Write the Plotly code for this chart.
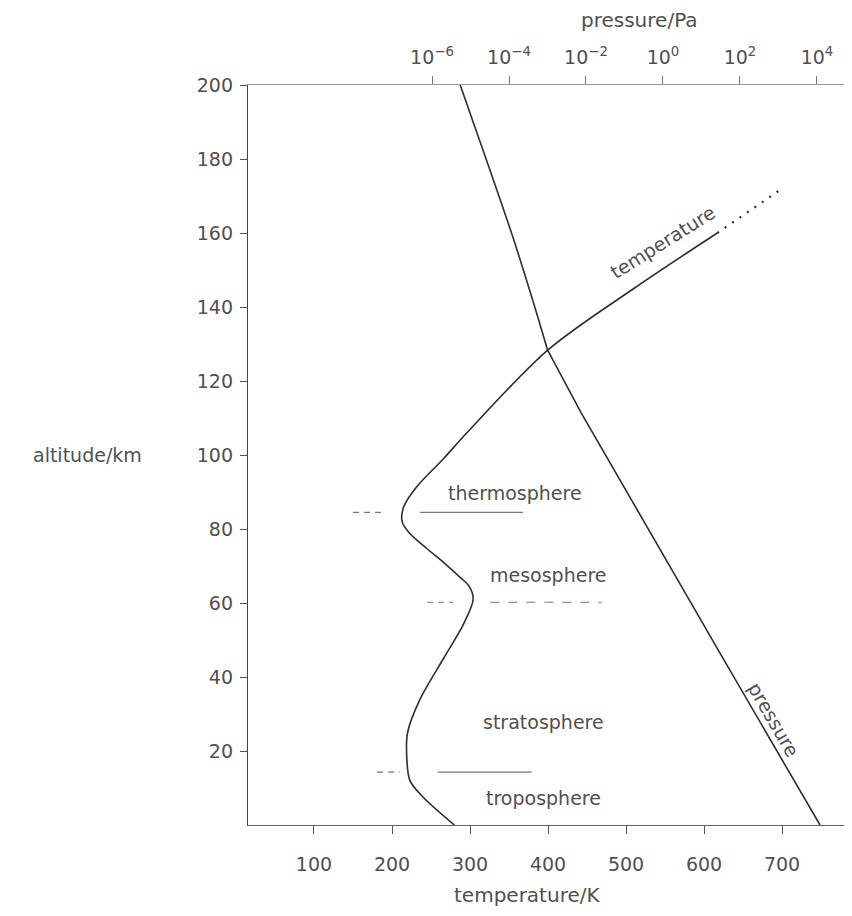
import plotly.graph_objects as go

# ---- data ----
temp_alt_km = [0, 7.5, 12, 18, 25, 34, 45, 54, 61, 64.5, 67, 71, 75, 79, 82, 86, 91.5, 99, 106, 128.4, 145, 160]
temp_K = [280, 240, 223, 219, 220, 236, 266, 291, 304, 299, 287, 266, 243, 222, 213, 215, 232, 266, 296, 400, 510, 617]

temp_dotted_alt_km = [160, 172]
temp_dotted_K = [617, 700]

press_low_alt_km = [0, 46.5, 111.4, 128.4]
press_low_Pa = [1.2e4, 30, 7.5e-3, 1.0e-3]
press_high_alt_km = [128.4, 139, 158.9, 177, 200]
press_high_Pa = [1.0e-3, 5.0e-4, 1.26e-4, 3.2e-5, 5.4e-6]

boundary_alt_km = [14.3, 60.2, 84.5]
boundary_left_K = [[181, 210], [245, 278], [150, 192]]
boundary_right_K = [[259, 379], [326, 469], [236, 368]]
boundary_right_dash = ["solid", "dash", "solid"]

layer_names = ["troposphere", "stratosphere", "mesosphere", "thermosphere"]
layer_label_K = [394, 394, 400, 358]
layer_label_alt = [7.3, 27.8, 67.6, 89.7]

temp_ticks = [100, 200, 300, 400, 500, 600, 700]
alt_ticks = [20, 40, 60, 80, 100, 120, 140, 160, 180, 200]
press_tick_vals = [1e-6, 1e-4, 1e-2, 1e0, 1e2, 1e4]
press_tick_text = ["10<sup>−6</sup>", "10<sup>−4</sup>", "10<sup>−2</sup>", "10<sup>0</sup>",
                   "10<sup>2</sup>", "10<sup>4</sup>"]

FONT = "DejaVu Sans"
TXT = "#505050"
LINE = "#2e2e2e"

fig = go.Figure()

# temperature curve
fig.add_trace(go.Scatter(x=temp_K, y=temp_alt_km, mode="lines",
                         line=dict(color=LINE, width=1.6, shape="spline", smoothing=0.9),
                         hoverinfo="skip", showlegend=False))
fig.add_trace(go.Scatter(x=temp_dotted_K, y=temp_dotted_alt_km, mode="lines",
                         line=dict(color=LINE, width=2.2, dash="2px,7px"),
                         hoverinfo="skip", showlegend=False))

# layer boundaries
for alt, lseg, rseg, rd in zip(boundary_alt_km, boundary_left_K, boundary_right_K, boundary_right_dash):
    fig.add_trace(go.Scatter(x=lseg, y=[alt, alt], mode="lines",
                             line=dict(color="#777", width=1.2, dash="6px,5px"),
                             hoverinfo="skip", showlegend=False))
    fig.add_trace(go.Scatter(x=rseg, y=[alt, alt], mode="lines",
                             line=dict(color="#777", width=1.2, dash=rd),
                             hoverinfo="skip", showlegend=False))

# pressure curve (top log axis)
fig.add_trace(go.Scatter(x=press_low_Pa, y=press_low_alt_km, mode="lines", xaxis="x2",
                         line=dict(color=LINE, width=1.6),
                         hoverinfo="skip", showlegend=False))
fig.add_trace(go.Scatter(x=press_high_Pa, y=press_high_alt_km, mode="lines", xaxis="x2",
                         line=dict(color=LINE, width=1.6, shape="spline", smoothing=0.8),
                         hoverinfo="skip", showlegend=False))

ann_font = dict(family=FONT, size=19, color=TXT)

# region labels
for name, tk, al in zip(layer_names, layer_label_K, layer_label_alt):
    fig.add_annotation(x=tk, y=al, xref="x", yref="y", text=name, showarrow=False,
                       xanchor="center", yanchor="middle", font=ann_font)

fig.add_annotation(x=547, y=157.5, xref="x", yref="y", text="temperature", showarrow=False,
                   textangle=-32, xanchor="center", yanchor="middle", font=ann_font)
fig.add_annotation(x=690, y=28.5, xref="x", yref="y", text="pressure", showarrow=False,
                   textangle=60, xanchor="center", yanchor="middle", font=ann_font)

# axis titles
fig.add_annotation(x=-0.265, y=0.5, xref="paper", yref="paper", text="altitude/km",
                   showarrow=False, xanchor="center", yanchor="middle", font=ann_font)
fig.add_annotation(x=0.462, y=-0.094, xref="paper", yref="paper", text="temperature/K",
                   showarrow=False, xanchor="center", yanchor="middle",
                   font=dict(family=FONT, size=20, color=TXT))
fig.add_annotation(x=0.649, y=1.088, xref="paper", yref="paper", text="pressure/Pa",
                   showarrow=False, xanchor="center", yanchor="middle",
                   font=dict(family=FONT, size=20, color=TXT))

fig.update_layout(
    width=844, height=908,
    margin=dict(l=240, r=0, t=77, b=91),
    paper_bgcolor="white", plot_bgcolor="white",
    font=dict(family=FONT, size=19, color=TXT),
    xaxis=dict(range=[15.4, 789.7], tickvals=temp_ticks, ticks="outside", ticklen=8,
               tickcolor="#555", showline=True, linecolor="#666", linewidth=1.2,
               showgrid=False, zeroline=False, ticklabelstandoff=14,
               tickfont=dict(family=FONT, size=19, color=TXT)),
    xaxis2=dict(type="log", overlaying="x", side="top", range=[-10.78, 4.91],
                tickvals=press_tick_vals, ticktext=press_tick_text, ticks="outside",
                ticklen=8, tickcolor="#777", showline=True, linecolor="#999", linewidth=1,
                showgrid=False, zeroline=False, ticklabelstandoff=4,
                tickfont=dict(family=FONT, size=19, color=TXT)),
    yaxis=dict(range=[0, 200], tickvals=alt_ticks, ticks="outside", ticklen=7,
               tickcolor="#555", showline=True, linecolor="#444", linewidth=1.4,
               showgrid=False, zeroline=False, ticklabelstandoff=3,
               tickfont=dict(family=FONT, size=19, color=TXT)),
)

fig.write_html("out.html")
